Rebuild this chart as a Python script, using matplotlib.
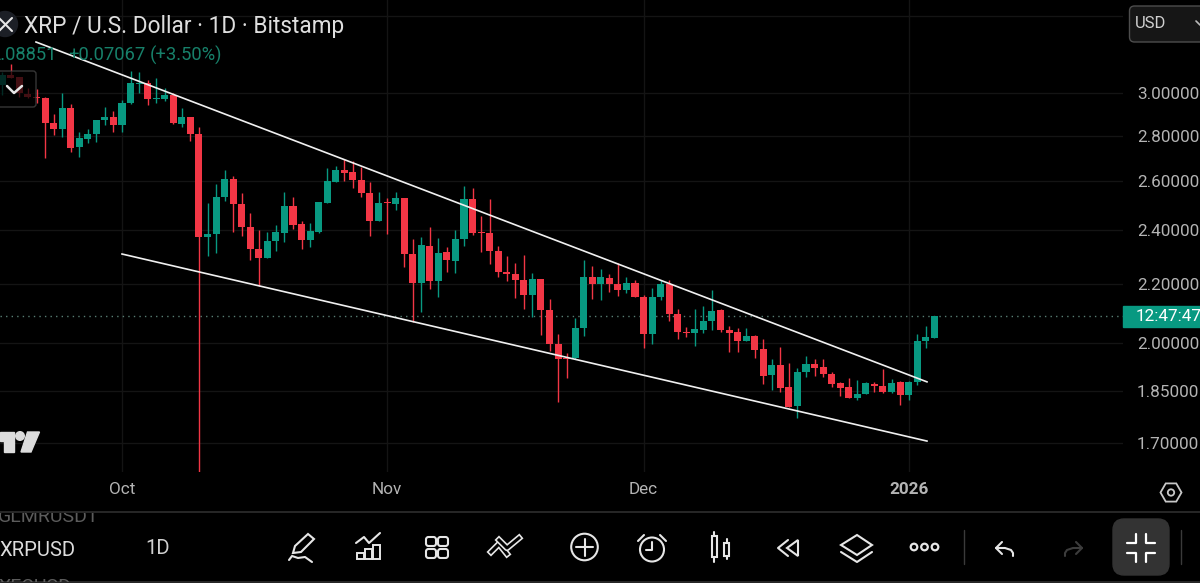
#!/bin/env python3

import numpy as np
import matplotlib
matplotlib.use("Agg")
import matplotlib.pyplot as plt
from matplotlib.patches import Circle, FancyBboxPatch, Polygon, Rectangle, Arc

plt.rcParams['font.family'] = ['Roboto', 'DejaVu Sans']

# daily candles, day 0 is Oct 1 2025
FIRST_DAY = -14
OPENS = [
    3.040, 3.090, 3.079, 2.995, 2.981, 2.976, 2.856, 2.828, 2.926, 2.747,
    2.783, 2.806, 2.871, 2.885, 2.847, 2.951, 3.045, 3.050, 2.970, 2.970,
    2.990, 2.852, 2.885, 2.806, 2.374, 2.386, 2.533, 2.608, 2.504, 2.414,
    2.329, 2.294, 2.359, 2.390, 2.496, 2.425, 2.363, 2.393, 2.508, 2.596,
    2.646, 2.637, 2.604, 2.550, 2.437, 2.512, 2.504, 2.529, 2.310, 2.203,
    2.340, 2.211, 2.317, 2.283, 2.367, 2.525, 2.393, 2.390, 2.321, 2.244,
    2.236, 2.214, 2.161, 2.218, 2.109, 1.996, 1.951, 1.951, 2.048, 2.226,
    2.200, 2.222, 2.200, 2.178, 2.203, 2.154, 2.028, 2.154, 2.200, 2.095,
    2.035, 2.031, 2.041, 2.072, 2.109, 2.041, 2.035, 2.006, 2.022, 1.980,
    1.898, 1.929, 1.861, 1.805, 1.907, 1.932, 1.923, 1.901, 1.873, 1.861,
    1.828, 1.840, 1.870, 1.864, 1.846, 1.876, 1.837, 1.876, 2.006, 2.015,
]
HIGHS = [
    3.105, 3.146, 3.079, 3.024, 3.020, 2.981, 2.899, 3.000, 2.946, 2.815,
    2.832, 2.871, 2.931, 2.912, 2.965, 3.110, 3.105, 3.065, 3.074, 3.024,
    3.000, 2.926, 2.885, 2.837, 2.508, 2.588, 2.649, 2.621, 2.550, 2.468,
    2.401, 2.393, 2.421, 2.554, 2.533, 2.437, 2.429, 2.512, 2.654, 2.663,
    2.694, 2.685, 2.659, 2.596, 2.554, 2.529, 2.554, 2.529, 2.367, 2.374,
    2.414, 2.371, 2.336, 2.401, 2.578, 2.570, 2.456, 2.525, 2.340, 2.302,
    2.276, 2.305, 2.240, 2.218, 2.146, 2.028, 1.966, 2.082, 2.287, 2.265,
    2.254, 2.236, 2.276, 2.226, 2.214, 2.161, 2.185, 2.214, 2.214, 2.112,
    2.051, 2.112, 2.122, 2.178, 2.112, 2.054, 2.048, 2.048, 2.025, 2.012,
    1.947, 1.985, 1.935, 1.920, 1.956, 1.947, 1.947, 1.907, 1.876, 1.889,
    1.882, 1.876, 1.876, 1.916, 1.885, 1.879, 1.879, 2.028, 2.054, 2.089,
]
LOWS = [
    2.990, 3.074, 2.981, 2.976, 2.951, 2.700, 2.801, 2.792, 2.725, 2.703,
    2.765, 2.769, 2.847, 2.815, 2.815, 2.946, 3.000, 2.941, 2.951, 2.960,
    2.852, 2.837, 2.774, 1.580, 2.302, 2.313, 2.517, 2.393, 2.378, 2.287,
    2.193, 2.294, 2.321, 2.356, 2.405, 2.329, 2.336, 2.390, 2.508, 2.596,
    2.600, 2.570, 2.533, 2.378, 2.437, 2.386, 2.480, 2.261, 2.068, 2.102,
    2.182, 2.154, 2.244, 2.240, 2.340, 2.382, 2.317, 2.272, 2.226, 2.210,
    2.151, 2.112, 2.085, 2.025, 1.974, 1.816, 1.889, 1.947, 2.022, 2.147,
    2.144, 2.172, 2.158, 2.168, 2.154, 1.983, 1.996, 2.144, 2.072, 2.012,
    2.018, 1.990, 2.031, 2.041, 2.035, 1.970, 1.970, 2.006, 1.951, 1.870,
    1.852, 1.846, 1.802, 1.771, 1.892, 1.895, 1.892, 1.861, 1.834, 1.828,
    1.822, 1.840, 1.846, 1.843, 1.843, 1.808, 1.822, 1.867, 1.983, 2.015,
]
CLOSES = [
    3.090, 3.074, 3.000, 2.981, 2.974, 2.856, 2.828, 2.926, 2.743, 2.788,
    2.806, 2.871, 2.885, 2.847, 2.951, 3.050, 3.050, 2.970, 2.976, 2.990,
    2.856, 2.885, 2.806, 2.374, 2.386, 2.533, 2.608, 2.504, 2.414, 2.329,
    2.294, 2.359, 2.393, 2.496, 2.421, 2.363, 2.397, 2.512, 2.600, 2.646,
    2.633, 2.604, 2.550, 2.437, 2.508, 2.508, 2.529, 2.310, 2.203, 2.343,
    2.211, 2.314, 2.287, 2.367, 2.525, 2.390, 2.390, 2.321, 2.244, 2.236,
    2.214, 2.161, 2.218, 2.109, 1.996, 1.947, 1.947, 2.048, 2.226, 2.200,
    2.226, 2.200, 2.178, 2.203, 2.154, 2.028, 2.154, 2.200, 2.095, 2.035,
    2.031, 2.044, 2.072, 2.105, 2.041, 2.031, 2.006, 2.022, 1.977, 1.895,
    1.929, 1.858, 1.802, 1.907, 1.932, 1.920, 1.901, 1.870, 1.858, 1.828,
    1.840, 1.873, 1.864, 1.846, 1.873, 1.837, 1.876, 2.006, 2.018, 2.089,
]

# hand drawn channel
UPPER_DAYS = [-10.06, 94.15]
UPPER_PRICES = [3.259, 1.877]
LOWER_DAYS = [0, 94.15]
LOWER_PRICES = [2.310, 1.705]

LAST_PRICE = 2.08851

PRICE_TICKS = [3.4, 3.0, 2.8, 2.6, 2.4, 2.2, 2.0, 1.85, 1.7]
PRICE_LABELS = ['', '3.00000', '2.80000', '2.60000', '2.40000', '2.20000',
                '2.00000', '1.85000', '1.70000']
MONTH_DAYS = [0, 31, 61, 92]
MONTH_LABELS = ['Oct', 'Nov', 'Dec', '2026']

W, H = 1200, 583
UP = '#089981'
DOWN = '#f23645'
GRID = '#141414'
TEXT = '#b4b4b4'
ICON = '#e6e6e6'


def plot_candles(ax):
    days = np.arange(FIRST_DAY, FIRST_DAY + len(OPENS))
    opens = np.array(OPENS)
    closes = np.array(CLOSES)
    colors = [UP if c >= o else DOWN for o, c in zip(opens, closes)]
    ax.vlines(days, LOWS, HIGHS, colors=colors, linewidth=1.0, zorder=3)
    bottoms = np.minimum(opens, closes)
    ax.bar(days, np.abs(closes - opens), bottom=bottoms, width=0.82,
           color=colors, linewidth=0, zorder=4)


def setup_axes(fig):
    ax = fig.add_axes([0, (H - 472) / H, 1123 / W, 472 / H])
    ax.set_facecolor('black')
    ax.set_yscale('log')
    ax.set_xlim(-122 / 8.55, (1123 - 122) / 8.55)
    ax.set_ylim(1.6215, 3.489)
    ax.yaxis.tick_right()
    ax.set_yticks(PRICE_TICKS, PRICE_LABELS, color=TEXT, fontsize=12.3)
    ax.minorticks_off()
    ax.set_xticks(MONTH_DAYS, MONTH_LABELS, color=TEXT, fontsize=12.3)
    ax.xaxis.get_majorticklabels()[-1].set_fontweight('bold')
    ax.tick_params(axis='both', length=0)
    ax.tick_params(axis='y', pad=10)
    ax.tick_params(axis='x', pad=7)
    ax.grid(True, color=GRID, linewidth=1)
    ax.set_axisbelow(True)
    for spine in ax.spines.values():
        spine.set_visible(False)
    return ax


def line(ov, xs, ys, color=ICON, lw=1.5):
    ov.plot(xs, ys, color=color, linewidth=lw, solid_capstyle='round',
            solid_joinstyle='round', zorder=10)


def draw_header(ov):
    ov.add_patch(Circle((5, 24), 12.5, color='#1c1f26', zorder=9))
    line(ov, [-1, 12], [18, 31], lw=1.5)
    line(ov, [-1, 12], [31, 18], lw=1.5)
    ov.text(24, 26, 'XRP / U.S. Dollar · 1D · Bitstamp', color='#dedede',
            fontsize=16.25, va='center', ha='left', zorder=10)
    teal = '#17806a'
    ov.text(57, 55, '2.08851', color=teal, fontsize=13.2, va='center', ha='right')
    ov.text(68, 55, '+0.07067', color=teal, fontsize=13.2, va='center')
    ov.text(150, 55, '(+3.50%)', color=teal, fontsize=13.2, va='center')
    ov.add_patch(FancyBboxPatch((-8, 71), 44, 36, boxstyle='round,pad=0,rounding_size=3',
                                facecolor='black', edgecolor='#4a4a4a',
                                alpha=0.72, linewidth=1, zorder=9))
    line(ov, [7, 14, 22], [86, 93, 86], lw=1.8)
    # currency button
    ov.add_patch(FancyBboxPatch((1129.5, 6), 80, 36, boxstyle='round,pad=0,rounding_size=5',
                                facecolor='#161616', edgecolor='#4d4d4d',
                                linewidth=1, zorder=9))
    ov.text(1135, 23.5, 'USD', color='#d0d0d0', fontsize=12, va='center', zorder=10)
    line(ov, [1196, 1200], [21, 25], color='#bbbbbb', lw=1.2)
    # countdown label
    ov.add_patch(Rectangle((1123, 306), 77, 21, color=UP, zorder=9))
    ov.text(1136, 316.5, '12:47:47', color='white', fontsize=12.3, va='center', zorder=10)


def draw_logo(ov):
    color = '#dcdcdc'
    ov.add_patch(Polygon([(0, 432), (13.5, 432), (13.5, 452), (4, 452), (4, 441), (0, 441)],
                         color=color, zorder=10))
    ov.add_patch(Circle((20, 436), 4.3, color=color, zorder=10))
    ov.add_patch(Polygon([(27.5, 432), (39.5, 432), (31, 452), (21, 452)],
                         color=color, zorder=10))


def draw_symbols(ov):
    ov.plot([0, W], [512, 512], color='#2e2e2e', linewidth=1.2)
    ov.plot([0, W], [582.4, 582.4], color='#2e2e2e', linewidth=1.2)
    for label, y in (('GLMRUSDT', 517.5), ('XECUSD', 587)):
        t = ov.text(-2, y, label, color='#5c5c5c', fontsize=14, va='center')
        t.set_clip_path(Rectangle((0, 513), W, 69, transform=ov.transData))
        t.set_clip_on(True)
    ov.text(-1, 550, 'XRPUSD', color='#dcdcdc', fontsize=14.6, va='center')
    ov.text(145, 548, '1D', color='#cfcfcf', fontsize=14.6, va='center')


def draw_toolbar(ov):
    # pencil
    ov.add_patch(Polygon([(293, 553), (295, 546), (308, 534), (314, 539), (301, 552)],
                         fill=False, edgecolor=ICON, linewidth=1.5, zorder=10))
    line(ov, [289, 292, 298, 305, 312], [560, 556, 558, 557, 562])
    # indicators
    line(ov, [356, 364, 369, 380], [543, 537, 543, 533])
    for x0, y0 in ((357, 553), (365, 549), (373, 545)):
        ov.add_patch(Rectangle((x0, y0), 7, 559 - y0, fill=False, edgecolor=ICON,
                               linewidth=1.4, zorder=10))
    # layouts
    for x0 in (426, 438):
        for y0 in (537, 549):
            ov.add_patch(FancyBboxPatch((x0, y0), 10, 9, boxstyle='round,pad=0,rounding_size=2.5',
                                        fill=False, edgecolor=ICON, linewidth=1.5, zorder=10))
    # compare, outlined band
    ov.plot([491, 499, 507], [552, 544, 554], color=ICON, linewidth=4.6, zorder=10)
    ov.plot([491, 499, 507], [552, 544, 554], color='black', linewidth=2.2, zorder=10)
    ov.plot([499, 507, 519], [540, 548, 538], color=ICON, linewidth=4.6, zorder=10)
    ov.plot([499, 507, 519], [540, 548, 538], color='black', linewidth=2.2, zorder=10)
    # add
    ov.add_patch(Circle((584.5, 547), 13.3, fill=False, edgecolor=ICON, linewidth=1.5, zorder=10))
    line(ov, [576, 593], [547, 547])
    line(ov, [584.5, 584.5], [538.5, 555.5])
    # alarm
    ov.add_patch(Circle((652, 549.5), 12, fill=False, edgecolor=ICON, linewidth=1.5, zorder=10))
    line(ov, [652, 652, 646], [542, 550, 550])
    line(ov, [638, 644], [541, 535])
    line(ov, [660, 666], [535, 541])
    # candle type
    ov.add_patch(Rectangle((711.5, 536), 5.5, 21, fill=False, edgecolor=ICON, linewidth=1.5, zorder=10))
    line(ov, [714, 714], [532, 536])
    line(ov, [714, 714], [557, 562])
    ov.add_patch(Rectangle((724, 543), 5, 13, fill=False, edgecolor=ICON, linewidth=1.5, zorder=10))
    line(ov, [726.5, 726.5], [539, 543])
    line(ov, [726.5, 726.5], [556, 559])
    # replay
    line(ov, [788, 778, 788], [540, 548, 556])
    ov.add_patch(Polygon([(798, 540), (787, 548), (798, 556)], fill=False, edgecolor=ICON,
                         linewidth=1.5, zorder=10))
    # layers
    ov.add_patch(Polygon([(857, 535), (872, 545), (857, 555), (841, 545)], fill=False,
                         edgecolor=ICON, linewidth=1.5, zorder=10))
    line(ov, [841, 857, 872], [552, 562, 552])
    # more
    for x in (914, 924.5, 935):
        ov.add_patch(Circle((x, 547), 3.3, fill=False, edgecolor=ICON, linewidth=1.6, zorder=10))
    line(ov, [964, 964], [530, 564], color='#3a3a3a', lw=1)
    # undo / redo
    line(ov, [1002, 996, 1002], [542, 548, 554])
    line(ov, [996, 1005, 1011, 1013, 1013], [548, 548, 550, 553, 556])
    line(ov, [1076, 1082, 1076], [542, 548, 554], color='#3c3c3c')
    line(ov, [1082, 1073, 1067, 1065, 1065], [548, 548, 550, 553, 556], color='#3c3c3c')
    # collapse button
    ov.add_patch(FancyBboxPatch((1113, 519), 56, 56, boxstyle='round,pad=0,rounding_size=11',
                                color='#333333', zorder=9))
    line(ov, [1127, 1136, 1136], [543, 543, 534], color='white', lw=1.6)
    line(ov, [1146, 1146, 1155], [534, 543, 543], color='white', lw=1.6)
    line(ov, [1127, 1136, 1136], [553, 553, 562], color='white', lw=1.6)
    line(ov, [1146, 1146, 1155], [562, 553, 553], color='white', lw=1.6)
    line(ov, [1181, 1181], [530, 564], color='#3a3a3a', lw=1)
    # chart settings
    angles = np.deg2rad(np.arange(0, 360, 60))
    ov.add_patch(Polygon(np.c_[1171 + 10.5 * np.cos(angles), 492.5 + 10.5 * np.sin(angles)],
                         fill=False, edgecolor='#c8c8c8', linewidth=1.3, zorder=10))
    ov.add_patch(Circle((1171, 492.5), 3.2, fill=False, edgecolor='#c8c8c8', linewidth=1.3, zorder=10))


def main():
    fig = plt.figure(figsize=(W / 100, H / 100), dpi=100, facecolor='black')
    ax = setup_axes(fig)
    ax.axhline(LAST_PRICE, color='#7fb3a5', linewidth=1, linestyle=(0, (1, 3)), alpha=0.7, zorder=2)
    plot_candles(ax)
    ax.plot(UPPER_DAYS, UPPER_PRICES, color='#f0f0f0', linewidth=1.2, zorder=5)
    ax.plot(LOWER_DAYS, LOWER_PRICES, color='#f0f0f0', linewidth=1.2, zorder=5)

    # pixel overlay for the app chrome
    ov = fig.add_axes([0, 0, 1, 1])
    ov.set_xlim(0, W)
    ov.set_ylim(H, 0)
    ov.axis('off')
    ov.patch.set_alpha(0)
    draw_header(ov)
    draw_logo(ov)
    draw_symbols(ov)
    draw_toolbar(ov)

    fig.savefig('out.png', dpi=100, facecolor='black')


if __name__ == "__main__":
    main()
